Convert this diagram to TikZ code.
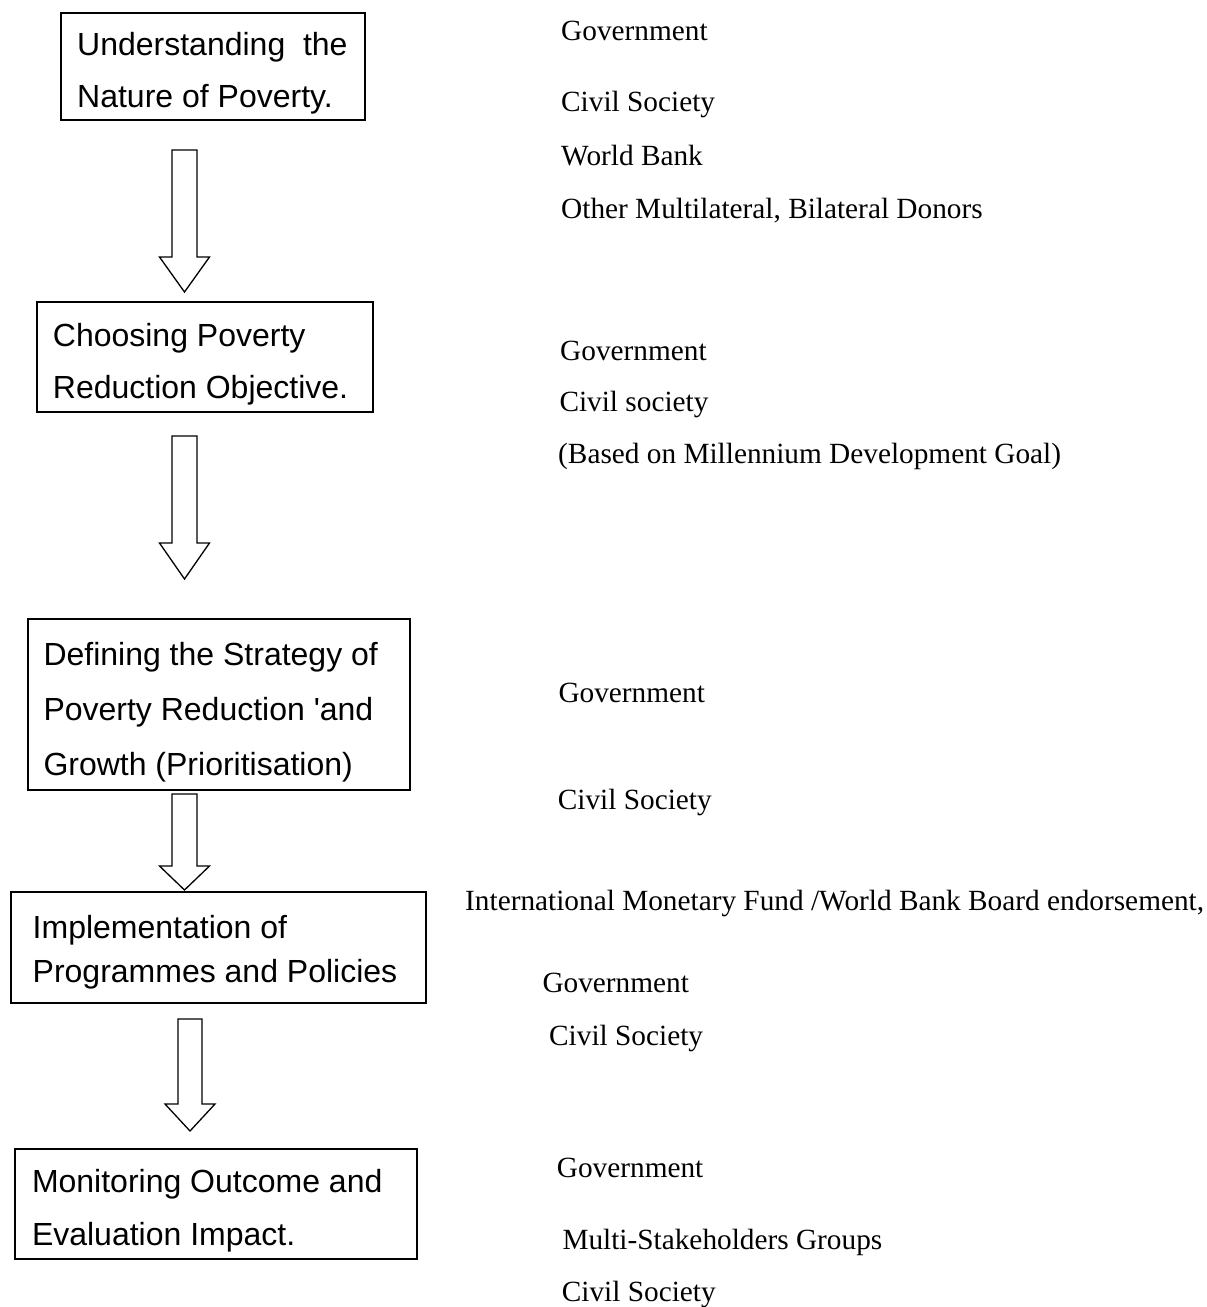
\documentclass[tikz,border=0pt]{standalone}
\usepackage{fontspec}
\setmainfont{Liberation Serif}
\newfontfamily\boxfont{Liberation Sans}
\usetikzlibrary{calc}
\tikzset{
  stepbox/.style={draw=black, line width=2pt, inner sep=0pt, fill=none},
  boxtext/.style={anchor=base west, inner sep=0pt, font=\boxfont\fontsize{32pt}{38pt}\selectfont},
  actor/.style={anchor=base west, inner sep=0pt, font=\fontsize{29.3pt}{35pt}\selectfont},
  blockarrow/.style={draw=black, line width=1.3pt, line join=miter, fill=white}
}
\newcommand{\downblock}[5]{% start coord, tip coord, half shaft, half head, head length
  \draw[blockarrow] ($(#1)+(-#3,0)$) -- ($(#1)+(#3,0)$) -- ($(#2)+(#3,-#5)$) -- ($(#2)+(#4,-#5)$)
    -- (#2) -- ($(#2)+(-#4,-#5)$) -- ($(#2)+(-#3,-#5)$) -- cycle;}
\begin{document}
\begin{tikzpicture}[x=1pt,y=-1pt]
\useasboundingbox[fill=white] (0,0) rectangle (1207,1307);

% boxes
\node[stepbox, minimum width=304pt, minimum height=107pt] (b1) at (213,66.5) {};
\node[stepbox, minimum width=336pt, minimum height=110pt] (b2) at (205,357) {};
\node[stepbox, minimum width=382pt, minimum height=171pt] (b3) at (219,704.5) {};
\node[stepbox, minimum width=415pt, minimum height=111pt] (b4) at (218.5,947.5) {};
\node[stepbox, minimum width=402pt, minimum height=110pt] (b5) at (216,1204) {};

% box texts
\node[boxtext] (b1t1) at (77,55.5) {Understanding\ \ the};
\node[boxtext] (b1t2) at (77,107.3) {Nature of Poverty.};
\node[boxtext] (b2t1) at (52.7,346.7) {Choosing Poverty};
\node[boxtext] (b2t2) at (52.7,398.3) {Reduction Objective.};
\node[boxtext] (b3t1) at (43.3,665) {Defining the Strategy of};
\node[boxtext] (b3t2) at (43.3,720) {Poverty Reduction 'and};
\node[boxtext] (b3t3) at (43.3,775) {Growth (Prioritisation)};
\node[boxtext] (b4t1) at (32.5,938.3) {Implementation of};
\node[boxtext] (b4t2) at (32.5,982.7) {Programmes and Policies};
\node[boxtext] (b5t1) at (31.8,1192.3) {Monitoring Outcome and};
\node[boxtext] (b5t2) at (31.8,1245) {Evaluation Impact.};

% block arrows
\coordinate (a1s) at (184.5,150);  \coordinate (a1e) at (184.5,292);
\coordinate (a2s) at (184.5,436);  \coordinate (a2e) at (184.5,579);
\coordinate (a3s) at (184.5,794);  \coordinate (a3e) at (184.5,890);
\coordinate (a4s) at (190,1019);   \coordinate (a4e) at (190,1131);
\downblock{a1s}{a1e}{12.5}{25}{35}
\downblock{a2s}{a2e}{12.5}{25}{36}
\downblock{a3s}{a3e}{12.5}{25}{24}
\downblock{a4s}{a4e}{12}{25}{27}

% actors
\node[actor] (r1a) at (561,40) {Government};
\node[actor] (r1b) at (561,111.7) {Civil Society};
\node[actor] (r1c) at (561,165) {World Bank};
\node[actor] (r1d) at (561,218.3) {Other Multilateral, Bilateral Donors};

\node[actor] (r2a) at (560,360) {Government};
\node[actor] (r2b) at (559.3,411.7) {Civil society};
\node[actor] (r2c) at (558,463.3) {(Based on Millennium Development Goal)};

\node[actor] (r3a) at (558.3,702.3) {Government};
\node[actor] (r3b) at (557.7,809) {Civil Society};

\node[actor] (r4a) at (465,910.7) {International Monetary Fund /World Bank Board endorsement,};
\node[actor] (r4b) at (542.3,992.3) {Government};
\node[actor] (r4c) at (549,1045.5) {Civil Society};

\node[actor] (r5a) at (556.7,1177.7) {Government};
\node[actor] (r5b) at (562.3,1249.3) {Multi-Stakeholders Groups};
\node[actor] (r5c) at (561.7,1301.7) {Civil Society};
\end{tikzpicture}
\end{document}
